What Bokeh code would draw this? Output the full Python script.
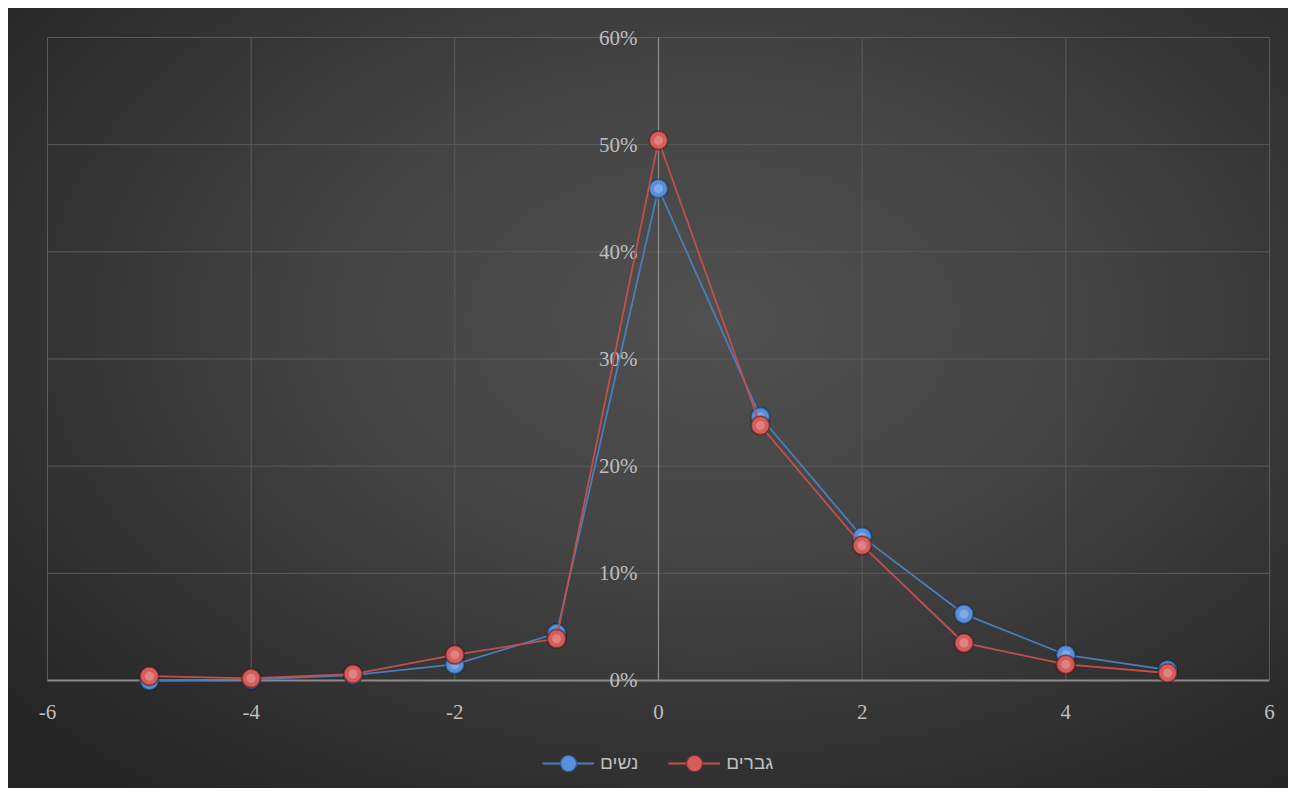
from bokeh.plotting import figure
from bokeh.models import Range1d, Legend, LegendItem, ColumnDataSource
from bokeh.core.properties import value
from bokeh.embed import file_html
from bokeh.resources import INLINE

# ---- data ----
x_vals = [-5, -4, -3, -2, -1, 0, 1, 2, 3, 4, 5]
women = [0.000, 0.001, 0.005, 0.015, 0.044, 0.459, 0.246, 0.134, 0.062, 0.024, 0.010]
men = [0.004, 0.002, 0.006, 0.024, 0.039, 0.504, 0.238, 0.126, 0.035, 0.015, 0.007]
women_label = "נשים"
men_label = "גברים"
x_ticks = [-6, -4, -2, 0, 2, 4, 6]
x_tick_labels = ["-6", "-4", "-2", "0", "2", "4", "6"]
y_ticks = [0.0, 0.1, 0.2, 0.3, 0.4, 0.5, 0.6]
y_tick_labels = ["0%", "10%", "20%", "30%", "40%", "50%", "60%"]

TEXT = "#bfbfbf"
GRID = "#5c5c5c"
AXIS = "#8a8a8a"
SERIF = "Liberation Serif"

# whole chart area is the plot frame; axes are drawn at x = 0 and y = 0
p = figure(width=1280, height=780, output_backend="svg", toolbar_location=None,
           x_range=Range1d(-6.383, 6.187), y_range=Range1d(-0.1008, 0.6271),
           x_axis_location=None, y_axis_location=None,
           min_border=0, min_border_left=0, min_border_right=0,
           min_border_top=0, min_border_bottom=0,
           background_fill_color=None, border_fill_color=None, outline_line_color=None,
           styles={"margin": "8px",
                   "background-image": "radial-gradient(ellipse 75% 80% at 55% 40%, #505050 0%, #434343 40%, #2d2d2d 80%, #242424 100%)"})
p.xgrid.visible = False
p.ygrid.visible = False

# grid lines
gx = [t for t in x_ticks if t != 0]
p.segment(x0=gx, y0=[0] * len(gx), x1=gx, y1=[0.6] * len(gx), line_color=GRID, line_width=1)
gy = [t for t in y_ticks if t != 0]
p.segment(x0=[-6] * len(gy), y0=gy, x1=[6] * len(gy), y1=gy, line_color=GRID, line_width=1)
# axis lines
p.segment(x0=[0], y0=[0], x1=[0], y1=[0.6], line_color=AXIS, line_width=1.3)
p.segment(x0=[-6], y0=[0], x1=[6], y1=[0], line_color=AXIS, line_width=1.8)

# tick labels
p.text(x=[0] * len(y_ticks), y=y_ticks, text=y_tick_labels, x_offset=-21,
       text_align="right", text_baseline="middle", text_color=TEXT,
       text_font=value(SERIF), text_font_size="21px")
p.text(x=x_ticks, y=[0] * len(x_ticks), text=x_tick_labels, y_offset=32,
       text_align="center", text_baseline="middle", text_color=TEXT,
       text_font=value(SERIF), text_font_size="21px")

def series(vals, line_c, edge_c, fill_c, hi_c):
    src = ColumnDataSource(dict(x=x_vals, y=vals))
    l = p.line("x", "y", source=src, line_color=line_c, line_width=1.8)
    p.scatter("x", "y", source=src, size=21, fill_color="#000000", fill_alpha=0.25,
              line_color=None)
    s = p.scatter("x", "y", source=src, size=18, fill_color=fill_c, line_color=edge_c,
                  line_width=1.2)
    p.scatter("x", "y", source=src, size=9, fill_color=hi_c, fill_alpha=0.45, line_color=None)
    return l, s

wl, ws = series(women, "#4a7ebb", "#2f5f9e", "#5b90d8", "#a9cdf5")
ml, ms = series(men, "#c0504d", "#8e2f2d", "#d35e5b", "#f4b0ae")

legend = Legend(items=[LegendItem(label=women_label, renderers=[wl, ws]),
                       LegendItem(label=men_label, renderers=[ml, ms])],
                orientation="horizontal", location=(534, 5),
                background_fill_alpha=0, border_line_color=None,
                label_text_color=TEXT, label_text_font="Liberation Sans",
                label_text_font_size="19px", glyph_width=52, glyph_height=40,
                spacing=30, label_standoff=6, margin=0, padding=4)
p.add_layout(legend, "center")

open("out.html", "w").write(file_html(p, INLINE))
